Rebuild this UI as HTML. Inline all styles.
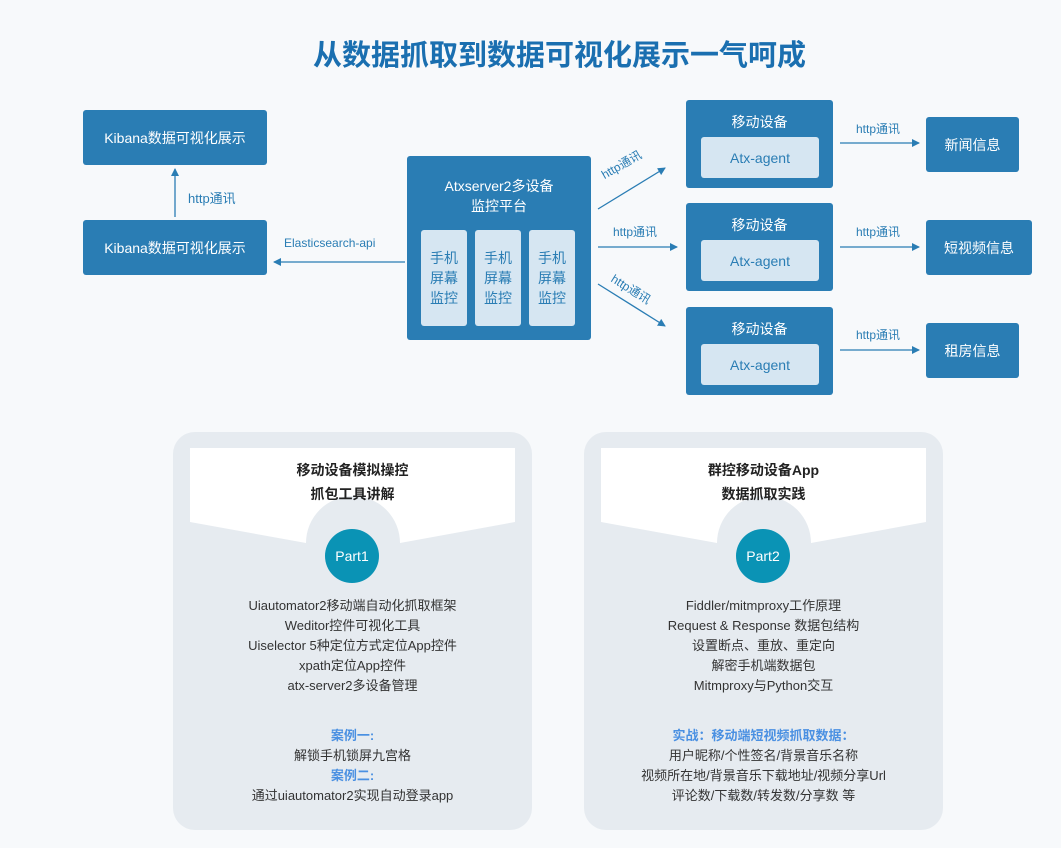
<!DOCTYPE html>
<html><head><meta charset="utf-8"><style>
*{margin:0;padding:0;box-sizing:border-box}
body{width:1061px;height:848px;background:#f7f9fb;position:relative;overflow:hidden;font-family:"Liberation Sans","Noto Sans CJK SC",sans-serif}
.a{position:absolute}
.b{position:absolute;background:#2a7db4;color:#fff;border-radius:3px;display:flex;align-items:center;justify-content:center;font-size:14px}
.in{position:absolute;background:#d6e6f2;color:#2a7db4;border-radius:3px;display:flex;align-items:center;justify-content:center;text-align:center;font-size:14px;line-height:20px}
.lb{position:absolute;color:#2a7db4;font-size:12px;white-space:nowrap}
.txt{position:absolute;width:100%;text-align:center;font-size:13px;line-height:20px;color:#333}
.blue{color:#4a90e2;font-weight:bold}
.hd{position:absolute;width:100%;text-align:center;font-size:14px;line-height:24px;font-weight:bold;color:#222}
.part{position:absolute;width:54px;height:54px;border-radius:50%;background:#0a93b5;color:#fff;font-size:14px;display:flex;align-items:center;justify-content:center}
</style></head><body>
<div class="a" style="left:313px;top:32px;white-space:nowrap;font-size:29px;font-weight:bold;color:#1a6fb0">从数据抓取到数据可视化展示一气呵成</div>

<div class="b" style="left:83px;top:110px;width:184px;height:55px">Kibana数据可视化展示</div>
<div class="b" style="left:83px;top:220px;width:184px;height:55px">Kibana数据可视化展示</div>
<div class="lb" style="left:188px;top:188px;font-size:13px">http通讯</div>
<div class="lb" style="left:284px;top:236px">Elasticsearch-api</div>

<div class="b" style="left:407px;top:156px;width:184px;height:184px;align-items:flex-start;padding-top:20px;text-align:center;line-height:20px">Atxserver2多设备<br>监控平台</div>
<div class="in" style="left:421px;top:230px;width:46px;height:96px">手机<br>屏幕<br>监控</div>
<div class="in" style="left:475px;top:230px;width:46px;height:96px">手机<br>屏幕<br>监控</div>
<div class="in" style="left:529px;top:230px;width:46px;height:96px">手机<br>屏幕<br>监控</div>

<div class="lb" style="left:598px;top:168px;transform:rotate(-30deg);transform-origin:left top">http通讯</div>
<div class="lb" style="left:613px;top:223px">http通讯</div>
<div class="lb" style="left:617px;top:270px;transform:rotate(32deg);transform-origin:left top">http通讯</div>

<div class="b" style="left:686px;top:100px;width:147px;height:88px;align-items:flex-start;padding-top:12px">移动设备</div>
<div class="in" style="left:701px;top:137px;width:118px;height:41px">Atx-agent</div>
<div class="b" style="left:686px;top:203px;width:147px;height:88px;align-items:flex-start;padding-top:12px">移动设备</div>
<div class="in" style="left:701px;top:240px;width:118px;height:41px">Atx-agent</div>
<div class="b" style="left:686px;top:307px;width:147px;height:88px;align-items:flex-start;padding-top:12px">移动设备</div>
<div class="in" style="left:701px;top:344px;width:118px;height:41px">Atx-agent</div>

<div class="lb" style="left:856px;top:120px">http通讯</div>
<div class="lb" style="left:856px;top:223px">http通讯</div>
<div class="lb" style="left:856px;top:326px">http通讯</div>

<div class="b" style="left:926px;top:117px;width:93px;height:55px">新闻信息</div>
<div class="b" style="left:926px;top:220px;width:106px;height:55px">短视频信息</div>
<div class="b" style="left:926px;top:323px;width:93px;height:55px">租房信息</div>

<svg class="a" style="left:0;top:0" width="1061" height="848">
<defs><marker id="m" markerWidth="8" markerHeight="8" refX="7" refY="4" orient="auto" markerUnits="userSpaceOnUse"><path d="M0,0L8,4L0,8z" fill="#2a7db4"/></marker></defs>
<g stroke="#2a7db4" stroke-width="1.3" fill="none" marker-end="url(#m)">
<line x1="175" y1="217" x2="175" y2="169"/>
<line x1="405" y1="262" x2="274" y2="262"/>
<line x1="598" y1="209" x2="665" y2="168"/>
<line x1="598" y1="247" x2="677" y2="247"/>
<line x1="598" y1="284" x2="665" y2="326"/>
<line x1="840" y1="143" x2="919" y2="143"/>
<line x1="840" y1="247" x2="919" y2="247"/>
<line x1="840" y1="350" x2="919" y2="350"/>
</g>
<g fill="#e6ebf0"><rect x="173" y="432" width="359" height="398" rx="22"/><rect x="584" y="432" width="359" height="398" rx="22"/></g>
<path d="M190,448H515V522L400,543A42,42 0 0 0 306,543L190,522Z" fill="#fff"/>
<path d="M601,448H926V522L811,543A42,42 0 0 0 717,543L601,522Z" fill="#fff"/>
</svg>

<div class="a" style="left:173px;top:432px;width:359px;height:398px">
<div class="hd" style="top:26px">移动设备模拟操控<br>抓包工具讲解</div>
<div class="part" style="left:152px;top:97px">Part1</div>
<div class="txt" style="top:164px">Uiautomator2移动端自动化抓取框架<br>Weditor控件可视化工具<br>Uiselector 5种定位方式定位App控件<br>xpath定位App控件<br>atx-server2多设备管理</div>
<div class="txt" style="top:294px"><span class="blue">案例一:</span><br>解锁手机锁屏九宫格<br><span class="blue">案例二:</span><br>通过uiautomator2实现自动登录app</div>
</div>
<div class="a" style="left:584px;top:432px;width:359px;height:398px">
<div class="hd" style="top:26px">群控移动设备App<br>数据抓取实践</div>
<div class="part" style="left:152px;top:97px">Part2</div>
<div class="txt" style="top:164px">Fiddler/mitmproxy工作原理<br>Request &amp; Response 数据包结构<br>设置断点、重放、重定向<br>解密手机端数据包<br>Mitmproxy与Python交互</div>
<div class="txt" style="top:294px"><span class="blue">实战：移动端短视频抓取数据：</span><br>用户昵称/个性签名/背景音乐名称<br>视频所在地/背景音乐下载地址/视频分享Url<br>评论数/下载数/转发数/分享数 等</div>
</div>
</body></html>
